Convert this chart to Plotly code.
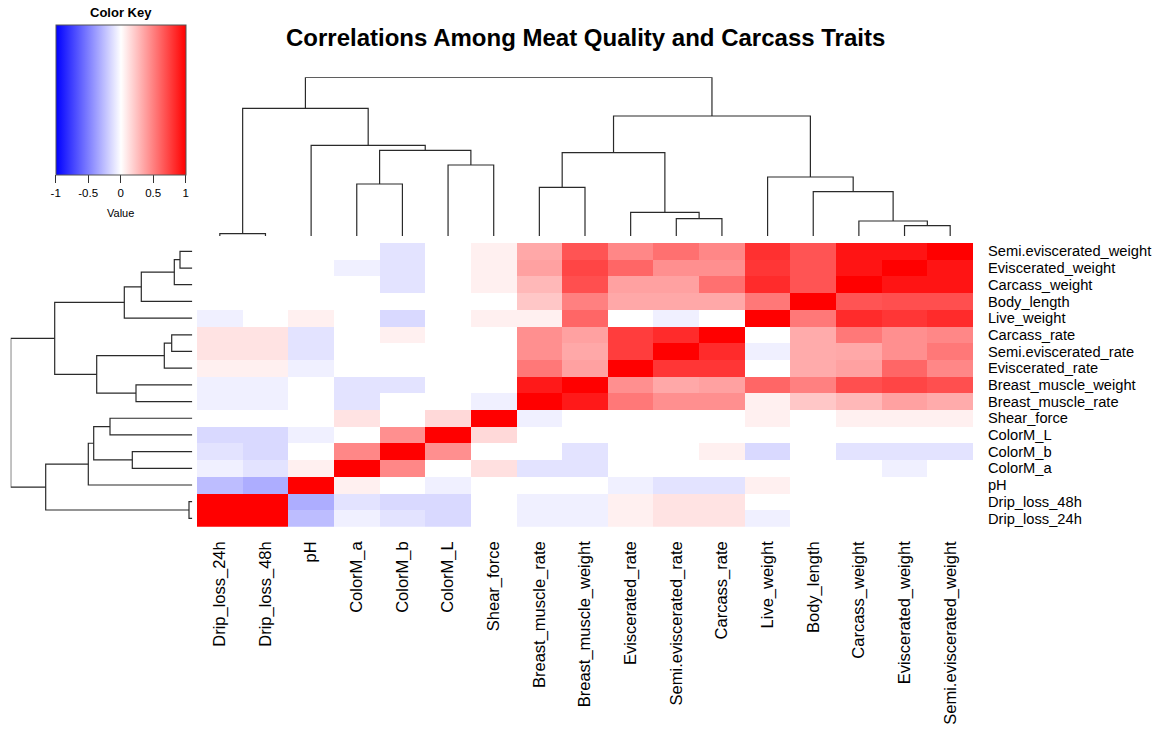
import plotly.graph_objects as go

# ---------------- data ----------------
col_labels = ["Drip_loss_24h", "Drip_loss_48h", "pH", "ColorM_a", "ColorM_b", "ColorM_L",
              "Shear_force", "Breast_muscle_rate", "Breast_muscle_weight", "Eviscerated_rate",
              "Semi.eviscerated_rate", "Carcass_rate", "Live_weight", "Body_length",
              "Carcass_weight", "Eviscerated_weight", "Semi.eviscerated_weight"]

row_labels = ["Semi.eviscerated_weight", "Eviscerated_weight", "Carcass_weight", "Body_length",
              "Live_weight", "Carcass_rate", "Semi.eviscerated_rate", "Eviscerated_rate",
              "Breast_muscle_weight", "Breast_muscle_rate", "Shear_force", "ColorM_L",
              "ColorM_b", "ColorM_a", "pH", "Drip_loss_48h", "Drip_loss_24h"]

# correlation values, one list per displayed row (top to bottom), columns left to right
corr_rows = [
    [0, 0, 0, 0, -0.11, 0, 0.06, 0.34, 0.67, 0.47, 0.56, 0.47, 0.81, 0.67, 0.92, 0.92, 1.0],
    [0, 0, 0, -0.06, -0.11, 0, 0.06, 0.37, 0.73, 0.60, 0.44, 0.44, 0.79, 0.67, 0.92, 1.0, 0.92],
    [0, 0, 0, 0, -0.11, 0, 0.06, 0.28, 0.69, 0.37, 0.37, 0.56, 0.83, 0.67, 1.0, 0.92, 0.92],
    [0, 0, 0, 0, 0, 0, 0, 0.22, 0.50, 0.34, 0.34, 0.34, 0.53, 1.0, 0.67, 0.69, 0.69],
    [-0.06, 0, 0.06, 0, -0.15, 0, 0.06, 0.06, 0.60, 0, -0.06, 0, 1.0, 0.53, 0.83, 0.79, 0.83],
    [0.11, 0.11, -0.11, 0, 0.06, 0, 0, 0.44, 0.37, 0.76, 0.83, 1.0, 0, 0.33, 0.53, 0.44, 0.47],
    [0.11, 0.11, -0.11, 0, 0, 0, 0, 0.44, 0.34, 0.76, 1.0, 0.83, -0.06, 0.33, 0.34, 0.44, 0.53],
    [0.06, 0.06, -0.06, 0, 0, 0, 0, 0.53, 0.37, 1.0, 0.79, 0.79, 0, 0.33, 0.37, 0.60, 0.47],
    [-0.06, -0.06, 0, -0.11, -0.11, 0, 0, 0.90, 1.0, 0.44, 0.34, 0.37, 0.60, 0.50, 0.69, 0.73, 0.69],
    [-0.06, -0.06, 0, -0.11, 0, 0, -0.06, 1.0, 0.90, 0.53, 0.44, 0.44, 0.06, 0.22, 0.28, 0.37, 0.33],
    [0, 0, 0, 0.11, 0, 0.15, 1.0, -0.06, 0, 0, 0, 0, 0.06, 0, 0.06, 0.06, 0.06],
    [-0.15, -0.15, -0.06, 0, 0.44, 1.0, 0.15, 0, 0, 0, 0, 0, 0, 0, 0, 0, 0],
    [-0.11, -0.15, 0, 0.47, 1.0, 0.44, 0, 0, -0.11, 0, 0, 0.06, -0.15, 0, -0.11, -0.11, -0.11],
    [-0.06, -0.11, 0.06, 1.0, 0.47, 0, 0.12, -0.11, -0.11, 0, 0, 0, 0, 0, 0, -0.06, 0],
    [-0.26, -0.32, 1.0, 0.06, 0, -0.06, 0, 0, 0, -0.06, -0.11, -0.11, 0.06, 0, 0, 0, 0],
    [1.0, 1.0, -0.32, -0.11, -0.15, -0.15, 0, -0.06, -0.06, 0.06, 0.11, 0.11, 0, 0, 0, 0, 0],
    [1.0, 1.0, -0.26, -0.06, -0.11, -0.15, 0, -0.06, -0.06, 0.06, 0.11, 0.11, -0.06, 0, 0, 0, 0],
]

# column dendrogram merges: (child A, child B, height); ints refer to earlier merges
col_merges = [
    ("Drip_loss_24h", "Drip_loss_48h", 0.023),
    ("ColorM_a", "ColorM_b", 0.520),
    ("ColorM_L", "Shear_force", 0.710),
    (1, 2, 0.857),
    ("pH", 3, 0.907),
    (0, 4, 1.277),
    ("Breast_muscle_rate", "Breast_muscle_weight", 0.487),
    ("Semi.eviscerated_rate", "Carcass_rate", 0.173),
    ("Eviscerated_rate", 7, 0.237),
    (6, 8, 0.833),
    ("Eviscerated_weight", "Semi.eviscerated_weight", 0.103),
    ("Carcass_weight", 10, 0.150),
    ("Body_length", 11, 0.443),
    ("Live_weight", 12, 0.590),
    (9, 13, 1.200),
    (5, 14, 1.587),
]

# row dendrogram merges
row_merges = [
    ("Semi.eviscerated_weight", "Eviscerated_weight", 0.123),
    (0, "Carcass_weight", 0.180),
    (1, "Body_length", 0.510),
    (2, "Live_weight", 0.680),
    ("Carcass_rate", "Semi.eviscerated_rate", 0.206),
    (4, "Eviscerated_rate", 0.280),
    ("Breast_muscle_weight", "Breast_muscle_rate", 0.563),
    (5, 6, 0.956),
    (3, 7, 1.376),
    ("Shear_force", "ColorM_L", 0.823),
    ("ColorM_b", "ColorM_a", 0.600),
    (9, 10, 0.986),
    (11, "pH", 1.040),
    ("Drip_loss_48h", "Drip_loss_24h", 0.033),
    (12, 13, 1.466),
    (8, 14, 1.816),
]

key_ticks = [-1, -0.5, 0, 0.5, 1]
key_ticktext = ["-1", "-0.5", "0", "0.5", "1"]

# ---------------- helpers ----------------
W, H = 1169, 734


def px(x):
    return x / W


def py(y):
    return 1 - y / H


def dendro_segments(leaves, merges):
    pos = {}
    hgt = {}
    for i, name in enumerate(leaves):
        pos[name] = i
        hgt[name] = 0.0
    a_list, b_list = [], []
    for k, (a, b, h) in enumerate(merges):
        pa, pb = pos[a], pos[b]
        ha, hb = hgt[a], hgt[b]
        a_list += [pa, pa, pb, pb, None]
        b_list += [ha, h, h, hb, None]
        pos[k] = (pa + pb) / 2
        hgt[k] = h
    return a_list, b_list, max(m[2] for m in merges)


# layout geometry (window pixels)
hx0, hx1 = 197, 973
hy0, hy1 = 243, 526.7

colorscale = [[0, "#0000FF"], [0.5, "#FFFFFF"], [1, "#FF0000"]]
font = "Liberation Sans, Arial, sans-serif"

fig = go.Figure()

fig.add_trace(go.Heatmap(
    z=corr_rows, x=list(range(len(col_labels))), y=list(range(len(row_labels))),
    colorscale=colorscale, zmin=-1, zmax=1, xaxis="x", yaxis="y",
    hovertemplate="%{z}<extra></extra>",
    colorbar=dict(
        orientation="h", lenmode="pixels", len=130, thicknessmode="pixels", thickness=150,
        x=px(120.7), xanchor="center", y=py(24.7), yanchor="top",
        tickvals=key_ticks, ticktext=key_ticktext, ticks="outside", ticklen=8,
        tickcolor="#333", tickfont=dict(family=font, size=11.5, color="#000"),
        outlinewidth=1, outlinecolor="#555", xpad=0, ypad=0,
    ),
))

cx, ch, cmax = dendro_segments(col_labels, col_merges)
fig.add_trace(go.Scatter(x=cx, y=ch, mode="lines", line=dict(color="#2a2a2a", width=1.2),
                         xaxis="x2", yaxis="y2", hoverinfo="skip", showlegend=False))

ry, rh, rmax = dendro_segments(row_labels, row_merges)
fig.add_trace(go.Scatter(x=rh, y=ry, mode="lines", line=dict(color="#2a2a2a", width=1.2),
                         xaxis="x3", yaxis="y3", hoverinfo="skip", showlegend=False))

n = len(col_labels)
hidden = dict(showgrid=False, zeroline=False, showticklabels=False, ticks="", showline=False,
              automargin=False)

fig.update_layout(
    template="none",
    width=W, height=H, margin=dict(l=0, r=0, t=0, b=0, pad=0, autoexpand=False),
    paper_bgcolor="white", plot_bgcolor="white", showlegend=False,
    font=dict(family=font, color="#000"),
    xaxis=dict(domain=[px(hx0), px(hx1)], range=[-0.5, n - 0.5], tickvals=list(range(n)),
               ticktext=col_labels, tickangle=-90, ticks="outside", ticklen=7,
               tickcolor="rgba(0,0,0,0)", tickfont=dict(size=16.5, family=font),
               showgrid=False, zeroline=False, showline=False, anchor="y", automargin=False),
    yaxis=dict(domain=[py(hy1), py(hy0)], range=[len(row_labels) - 0.5, -0.5],
               tickvals=list(range(len(row_labels))), ticktext=row_labels, side="right",
               ticks="outside", ticklen=11, tickcolor="rgba(0,0,0,0)",
               tickfont=dict(size=14.7, family=font),
               showgrid=False, zeroline=False, showline=False, anchor="x", automargin=False),
    xaxis2=dict(domain=[px(hx0), px(hx1)], range=[-0.5, n - 0.5], anchor="y2", **hidden),
    yaxis2=dict(domain=[py(236), py(77.3)], range=[0, cmax], anchor="x2", **hidden),
    xaxis3=dict(domain=[px(10.7), px(192.3)], range=[rmax, 0], anchor="y3", **hidden),
    yaxis3=dict(domain=[py(hy1), py(hy0)], range=[len(row_labels) - 0.5, -0.5],
                anchor="x3", **hidden),
    annotations=[
        dict(text="<b>Correlations Among Meat Quality and Carcass Traits</b>",
             x=px(585), y=py(37), xref="paper", yref="paper", showarrow=False,
             xanchor="center", yanchor="middle", font=dict(size=24, family=font, color="#000")),
        dict(text="<b>Color Key</b>", x=px(120.7), y=py(12.5), xref="paper", yref="paper",
             showarrow=False, xanchor="center", yanchor="middle",
             font=dict(size=13, family=font, color="#000")),
        dict(text="Value", x=px(120.7), y=py(213), xref="paper", yref="paper",
             showarrow=False, xanchor="center", yanchor="middle",
             font=dict(size=11, family=font, color="#000")),
    ],
)

fig.write_html("out.html", config={"displayModeBar": False},
               post_script="document.body.style.margin='0';document.body.style.overflow='hidden';")
